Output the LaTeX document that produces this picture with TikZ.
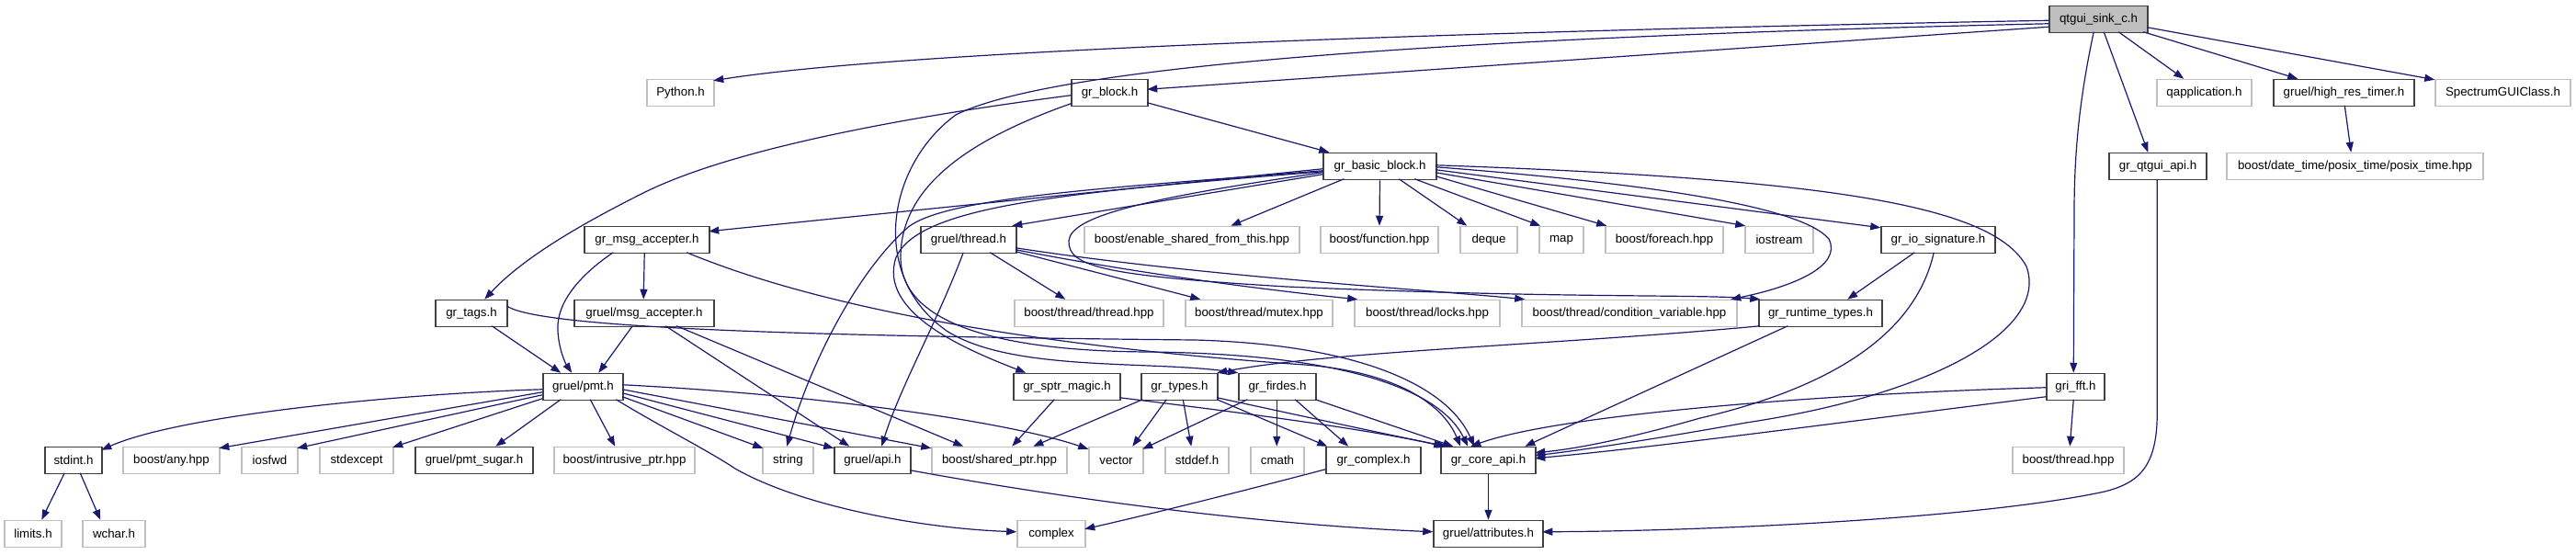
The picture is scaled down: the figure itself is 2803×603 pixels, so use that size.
\documentclass[tikz,border=0pt]{standalone}
\usepackage{fontspec}
\setmainfont{Liberation Sans}
\usetikzlibrary{arrows.meta,calc}
\definecolor{mblue}{RGB}{25,25,112}
\definecolor{gbord}{RGB}{191,191,191}
\definecolor{dbord}{RGB}{64,64,64}
\begin{document}
\begin{tikzpicture}[x=1pt,y=-1pt,
 nd/.style={rectangle, inner sep=0pt, minimum height=29pt, font=\fontsize{13.3}{15}\selectfont, line width=1.5pt},
 doc/.style={nd, draw=dbord},
 ext/.style={nd, draw=gbord},
 root/.style={nd, draw=dbord, fill=gbord},
 e/.style={draw=mblue, line width=1.2pt, -{Triangle[length=11pt,width=8pt]}}]
\useasboundingbox[fill=white] (0,0) rectangle (2803,603);
% row 0
\node[root, minimum width=107pt] (qtgui) at (2283.5,21) {qtgui\_sink\_c.h};
% row 1
\node[ext, minimum width=73pt] (python) at (740.5,101) {Python.h};
\node[doc, minimum width=83pt] (grblock) at (1207.5,101) {gr\_block.h};
\node[ext, minimum width=103pt] (qapp) at (2398.5,101) {qapplication.h};
\node[doc, minimum width=153pt] (hrt) at (2550.5,101) {gruel/high\_res\_timer.h};
\node[ext, minimum width=147pt] (spec) at (2723.5,101) {SpectrumGUIClass.h};
% row 2
\node[doc, minimum width=123pt] (bb) at (1501.5,181) {gr\_basic\_block.h};
\node[doc, minimum width=106pt] (qtapi) at (2348,181) {gr\_qtgui\_api.h};
\node[ext, minimum width=279pt] (posix) at (2562.5,181) {boost/date\_time/posix\_time/posix\_time.hpp};
% row 3
\node[doc, minimum width=136pt] (msgacc) at (704,261) {gr\_msg\_accepter.h};
\node[doc, minimum width=104pt] (gthread) at (1054,261) {gruel/thread.h};
\node[ext, minimum width=234pt] (esft) at (1297,261) {boost/enable\_shared\_from\_this.hpp};
\node[ext, minimum width=128pt] (func) at (1501,261) {boost/function.hpp};
\node[ext, minimum width=62pt] (deque) at (1620,261) {deque};
\node[ext, minimum width=48pt] (map) at (1699,261) {map};
\node[ext, minimum width=128pt] (foreach) at (1811,261) {boost/foreach.hpp};
\node[ext, minimum width=74pt] (iostream) at (1936,261) {iostream};
\node[doc, minimum width=124pt] (iosig) at (2109,261) {gr\_io\_signature.h};
% row 4
\node[doc, minimum width=78pt] (tags) at (513,341) {gr\_tags.h};
\node[doc, minimum width=152pt] (gmsgacc) at (701,341) {gruel/msg\_accepter.h};
\node[ext, minimum width=162pt] (bthread) at (1185,341) {boost/thread/thread.hpp};
\node[ext, minimum width=160pt] (mutex) at (1370,341) {boost/thread/mutex.hpp};
\node[ext, minimum width=158pt] (locks) at (1553,341) {boost/thread/locks.hpp};
\node[ext, minimum width=234pt] (condvar) at (1773,341) {boost/thread/condition\_variable.hpp};
\node[doc, minimum width=134pt] (rtt) at (1981,341) {gr\_runtime\_types.h};
% row 5
\node[doc, minimum width=87pt] (pmt) at (634.5,421) {gruel/pmt.h};
\node[doc, minimum width=116pt] (sptr) at (1161,421) {gr\_sptr\_magic.h};
\node[doc, minimum width=83pt] (types) at (1283.5,421) {gr\_types.h};
\node[doc, minimum width=84pt] (firdes) at (1390,421) {gr\_firdes.h};
\node[doc, minimum width=63pt] (fft) at (2258.5,421) {gri\_fft.h};
% row 6
\node[doc, minimum width=62pt] (stdint) at (80,501) {stdint.h};
\node[ext, minimum width=105pt] (any) at (186.5,501) {boost/any.hpp};
\node[ext, minimum width=61pt] (iosfwd) at (293.5,501) {iosfwd};
\node[ext, minimum width=80pt] (stdexcept) at (388,501) {stdexcept};
\node[doc, minimum width=128pt] (sugar) at (516,501) {gruel/pmt\_sugar.h};
\node[ext, minimum width=153pt] (intr) at (679.5,501) {boost/intrusive\_ptr.hpp};
\node[ext, minimum width=55pt] (string) at (857.5,501) {string};
\node[doc, minimum width=83pt] (gapi) at (949.5,501) {gruel/api.h};
\node[ext, minimum width=147pt] (shptr) at (1087.5,501) {boost/shared\_ptr.hpp};
\node[ext, minimum width=59pt] (vector) at (1214.5,501) {vector};
\node[ext, minimum width=69pt] (stddef) at (1302.5,501) {stddef.h};
\node[ext, minimum width=58pt] (cmath) at (1390,501) {cmath};
\node[doc, minimum width=103pt] (cplx) at (1494.5,501) {gr\_complex.h};
\node[doc, minimum width=103pt] (coreapi) at (1619.5,501) {gr\_core\_api.h};
\node[ext, minimum width=121pt] (bthr) at (2250.5,501) {boost/thread.hpp};
% row 7
\node[ext, minimum width=62pt] (limits) at (36,581) {limits.h};
\node[ext, minimum width=68pt] (wchar) at (124,581) {wchar.h};
\node[ext, minimum width=74pt] (complex) at (1144,581) {complex};
\node[doc, minimum width=119pt] (attr) at (1619.5,581) {gruel/attributes.h};

% ---- edges from qtgui
\draw[e] ($(qtgui.north west)+(0,16.5)$) .. controls (1700,32) and (1000,52) .. ($(python.north west)+(73,2)$);
\draw[e] ($(qtgui.north west)+(0,23.5)$) -- ($(grblock.north west)+(83,11.5)$);
\draw[e] ($(qtgui.north west)+(0,20)$) .. controls (1600,40) and (1150,70) .. (1040,125) .. controls (965,180) and (945,300) .. (1030,360) .. controls (1100,405) and (1250,392) .. ($(firdes.north west)+(0,0)$);
\draw[e] ($(qtgui.north west)+(49,29)$) .. controls (2262,110) and (2257,170) .. (2257,230) -- ($(fft.north west)+(30,0)$);
\draw[e] ($(qtgui.north west)+(60,29)$) -- ($(qtapi.north west)+(43,0)$);
\draw[e] ($(qtgui.north west)+(76,29)$) -- ($(qapp.north west)+(30,0)$);
\draw[e] ($(qtgui.north west)+(103,29)$) -- ($(hrt.north west)+(27,0)$);
\draw[e] ($(qtgui.north west)+(107,24)$) -- ($(spec.north west)+(0,1)$);
\draw[e] ($(hrt.north west)+(78,29)$) -- ($(posix.north west)+(136,0)$);
% ---- gr_block
\draw[e] ($(grblock.north west)+(0,18)$) .. controls (1000,125) and (800,160) .. (700,210) .. controls (620,250) and (565,285) .. ($(tags.north west)+(54,0)$);
\draw[e] ($(grblock.north west)+(83,26)$) -- ($(bb.north west)+(7,0)$);
\draw[e] ($(grblock.north west)+(0,27)$) .. controls (1060,150) and (980,200) .. (980,280) .. controls (980,350) and (1080,382) .. (1250,383) .. controls (1450,385) and (1565,420) .. ($(coreapi.north west)+(30,0)$);
% ---- gr_tags / gr_msg_accepter
\draw[e] ($(tags.north west)+(78,7)$) .. controls (585,358) and (900,366) .. (1300,370) .. controls (1480,375) and (1575,420) .. ($(coreapi.north west)+(37,0)$);
\draw[e] ($(msgacc.north west)+(112,29)$) .. controls (880,330) and (1100,375) .. (1420,397) .. controls (1520,405) and (1570,440) .. ($(coreapi.north west)+(22,0)$);
\draw[e] ($(msgacc.north west)+(32,29)$) .. controls (630,300) and (605,330) .. (607,360) .. controls (608,380) and (615,395) .. ($(pmt.north west)+(32,0)$);
\draw[e] ($(msgacc.north west)+(66,29)$) -- ($(gmsgacc.north west)+(76,0)$);
\draw[e] ($(tags.north west)+(62,29)$) -- ($(pmt.north west)+(20,0)$);
\draw[e] ($(gmsgacc.north west)+(64,29)$) -- ($(pmt.north west)+(61,0)$);
\draw[e] ($(gmsgacc.north west)+(100,29)$) -- ($(gapi.north west)+(17,0)$);
\draw[e] ($(gmsgacc.north west)+(112,29)$) -- ($(shptr.north west)+(35,0)$);
% ---- gr_basic_block
\draw[e] ($(bb.north west)+(0,18)$) -- ($(msgacc.north west)+(136,6)$);
\draw[e] ($(bb.north west)+(0,24)$) -- ($(gthread.north west)+(100,0)$);
\draw[e] ($(bb.north west)+(0,20)$) .. controls (1200,205) and (1020,215) .. (985,250) .. controls (930,300) and (880,400) .. ($(string.north west)+(27,0)$);
\draw[e] ($(bb.north west)+(0,21)$) .. controls (1150,210) and (1000,225) .. (975,280) .. controls (955,340) and (1050,380) .. ($(sptr.north west)+(14,0)$);
\draw[e] ($(bb.north west)+(0,22)$) .. controls (1250,215) and (1165,235) .. (1163,262) .. controls (1162,290) and (1200,300) .. (1400,312) .. controls (1700,325) and (1850,320) .. ($(rtt.north west)+(2,0)$);
\draw[e] ($(bb.north west)+(23,29)$) -- ($(esft.north west)+(160,0)$);
\draw[e] (bb.south) -- (func.north);
\draw[e] ($(bb.north west)+(83,29)$) -- ($(deque.north west)+(8,0)$);
\draw[e] ($(bb.north west)+(100,29)$) -- ($(map.north west)+(2,0)$);
\draw[e] ($(bb.north west)+(123,26)$) -- ($(foreach.north west)+(2,0)$);
\draw[e] ($(bb.north west)+(123,22)$) -- ($(iostream.north west)+(1,0)$);
\draw[e] ($(bb.north west)+(123,19)$) -- ($(iosig.north west)+(0,2)$);
\draw[e] ($(bb.north west)+(123,16)$) .. controls (1800,200) and (1960,225) .. (1990,260) .. controls (2005,290) and (1950,312) .. ($(condvar.north west)+(228,0)$);
\draw[e] ($(bb.north west)+(123,14)$) .. controls (2000,195) and (2170,225) .. (2205,290) .. controls (2230,360) and (2100,430) .. (1900,460) .. controls (1800,478) and (1720,490) .. ($(coreapi.north west)+(103,10)$);
% ---- gruel/pmt.h
\draw[e] ($(pmt.north west)+(0,18)$) .. controls (450,428) and (200,450) .. ($(stdint.north west)+(62,4)$);
\draw[e] ($(pmt.north west)+(0,21)$) -- ($(any.north west)+(105,2)$);
\draw[e] ($(pmt.north west)+(0,24)$) -- ($(iosfwd.north west)+(61,2)$);
\draw[e] ($(pmt.north west)+(0,28)$) -- ($(stdexcept.north west)+(80,1)$);
\draw[e] ($(pmt.north west)+(20,29)$) -- ($(sugar.north west)+(88,0)$);
\draw[e] ($(pmt.north west)+(52,29)$) -- ($(intr.north west)+(67,0)$);
\draw[e] ($(pmt.north west)+(80,29)$) .. controls (720,465) and (770,490) .. (800,510) .. controls (870,550) and (1000,575) .. ($(complex.north west)+(0,13)$);
\draw[e] ($(pmt.north west)+(87,26)$) -- ($(string.north west)+(1,2)$);
\draw[e] ($(pmt.north west)+(87,22)$) -- ($(gapi.north west)+(0,2)$);
\draw[e] ($(pmt.north west)+(87,18)$) -- ($(shptr.north west)+(0,2)$);
\draw[e] ($(pmt.north west)+(87,13)$) .. controls (900,430) and (1100,460) .. ($(vector.north west)+(0,3)$);
\draw[e] ($(stdint.north west)+(22,29)$) -- ($(limits.north west)+(41,0)$);
\draw[e] ($(stdint.north west)+(39,29)$) -- ($(wchar.north west)+(20,0)$);
% ---- gruel/thread.h
\draw[e] ($(gthread.north west)+(47,29)$) .. controls (1020,350) and (980,420) .. ($(gapi.north west)+(52,0)$);
\draw[e] ($(gthread.north west)+(76,29)$) -- ($(bthread.north west)+(56,0)$);
\draw[e] ($(gthread.north west)+(104,28)$) -- ($(mutex.north west)+(17,0)$);
\draw[e] ($(gthread.north west)+(104,26)$) .. controls (1250,300) and (1400,318) .. ($(locks.north west)+(4,0)$);
\draw[e] ($(gthread.north west)+(104,24)$) .. controls (1300,300) and (1550,315) .. ($(condvar.north west)+(4,0)$);
% ---- io signature / runtime types
\draw[e] ($(iosig.north west)+(37,29)$) -- ($(rtt.north west)+(97,0)$);
\draw[e] ($(iosig.north west)+(58,29)$) .. controls (2085,360) and (2000,420) .. (1850,455) .. controls (1780,475) and (1720,488) .. ($(coreapi.north west)+(103,7)$);
\draw[e] ($(rtt.north west)+(2,29)$) .. controls (1700,375) and (1450,382) .. ($(types.north west)+(83,0)$);
\draw[e] ($(rtt.north west)+(32,29)$) -- ($(coreapi.north west)+(92,0)$);
% ---- sptr / types / firdes
\draw[e] ($(sptr.north west)+(45,29)$) -- ($(shptr.north west)+(88,0)$);
\draw[e] ($(sptr.north west)+(116,27)$) .. controls (1400,455) and (1500,470) .. ($(coreapi.north west)+(4,0)$);
\draw[e] ($(types.north west)+(2,29)$) -- ($(shptr.north west)+(111,0)$);
\draw[e] ($(types.north west)+(28,29)$) -- ($(vector.north west)+(48,0)$);
\draw[e] ($(types.north west)+(46,29)$) -- ($(stddef.north west)+(29,0)$);
\draw[e] ($(types.north west)+(83,29)$) -- ($(cplx.north west)+(2,0)$);
\draw[e] ($(types.north west)+(83,27)$) .. controls (1450,460) and (1520,475) .. ($(coreapi.north west)+(7,0)$);
\draw[e] ($(firdes.north west)+(10,29)$) -- ($(vector.north west)+(59,3)$);
\draw[e] ($(firdes.north west)+(42,29)$) -- ($(cmath.north west)+(29,0)$);
\draw[e] ($(firdes.north west)+(62,29)$) -- ($(cplx.north west)+(25,0)$);
\draw[e] ($(firdes.north west)+(84,29)$) -- ($(coreapi.north west)+(14,0)$);
% ---- bottom
\draw[e] ($(cplx.north west)+(0,25)$) .. controls (1350,535) and (1250,560) .. ($(complex.north west)+(74,10)$);
\draw[e] (coreapi.south) -- (attr.north);
\draw[e] ($(gapi.north west)+(83,26)$) .. controls (1200,550) and (1400,572) .. ($(attr.north west)+(0,13)$);
\draw[e] ($(qtapi.north west)+(53,29)$) -- ($(qtapi.north west)+(53,280)$) .. controls (2348,505) and (2330,525) .. (2290,535) .. controls (2150,565) and (1850,578) .. ($(attr.north west)+(119,13)$);
% ---- gri_fft
\draw[e] ($(fft.north west)+(0,16)$) .. controls (2000,428) and (1700,450) .. ($(coreapi.north west)+(33,0)$);
\draw[e] ($(fft.north west)+(0,26)$) .. controls (2000,460) and (1800,487) .. ($(coreapi.north west)+(103,13)$);
\draw[e] ($(fft.north west)+(30,29)$) -- ($(bthr.north west)+(63,0)$);
\end{tikzpicture}
\end{document}
